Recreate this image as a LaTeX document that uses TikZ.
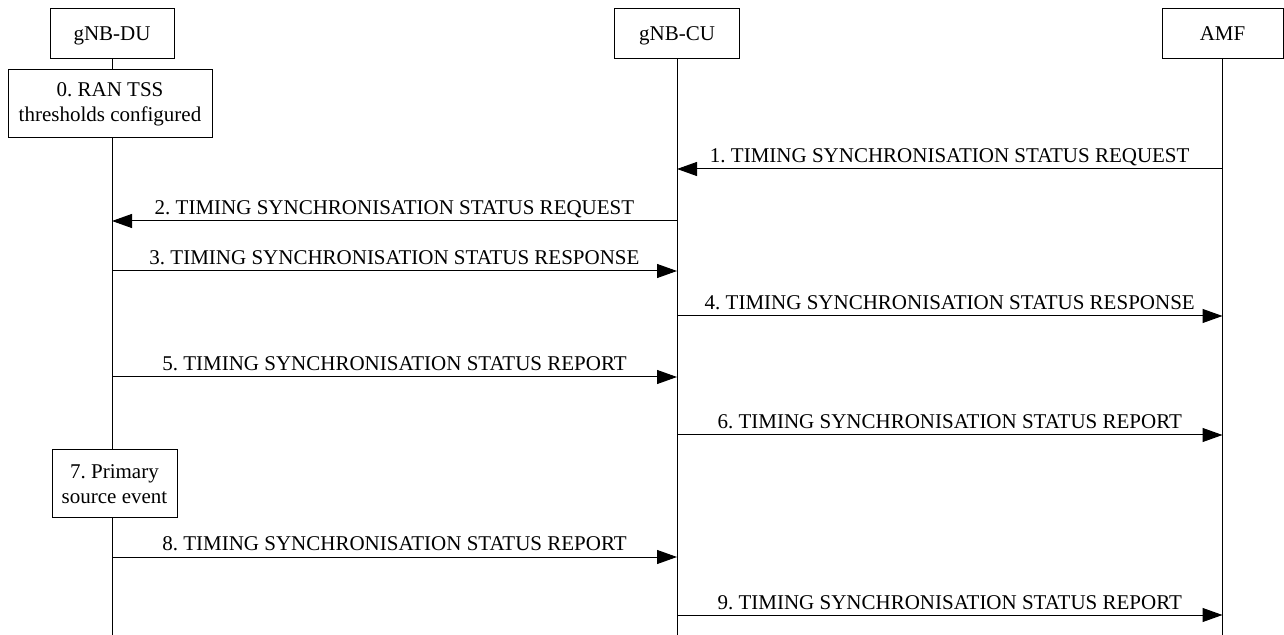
\documentclass[tikz,border=0pt]{standalone}
\usepackage{fontspec}
\setmainfont{Liberation Serif}
\frenchspacing
\usetikzlibrary{arrows.meta,positioning}
\tikzset{
  ent/.style={draw,line width=0.5pt,minimum width=62pt,minimum height=25pt,inner sep=2pt,text height=7pt,text depth=0pt,font=\fontsize{10.5}{12.5}\selectfont},
  actbox/.style={draw,line width=0.5pt,align=center,minimum height=34pt,inner sep=2pt,font=\fontsize{10.5}{12.5}\selectfont},
  life/.style={line width=0.5pt},
  msg/.style={-{Triangle[length=10pt,width=7pt]},line width=0.5pt},
  lbl/.style={anchor=base,yshift=3pt,inner sep=0pt,font=\fontsize{10.5}{12.5}\selectfont}
}

\begin{document}
\begin{tikzpicture}[x=0.5pt,y=-0.5pt]
\useasboundingbox (0,0) rectangle (1284,635);
% entities
\node[ent] (du) at (112,34) {gNB-DU};
\node[ent, minimum width=62.5pt] (cu) at (677,34) {gNB-CU};
\node[ent, minimum width=60.5pt] (amf) at (1222.5,34) {AMF};
% local actions
\node[actbox, minimum width=102pt] (s0) at (110,104) {0. RAN TSS\\thresholds configured};
\node[actbox, minimum width=62.5pt] (s7) at (114.5,484) {7. Primary\\source event};

% lifelines
\coordinate (bottom) at (0,635);
\draw[life] (du.south) -- (du.south |- s0.north);
\draw[life] (du.south |- s0.south) -- (du.south |- s7.north);
\draw[life] (du.south |- s7.south) -- (du.south |- bottom);
\draw[life] (cu.south) -- (cu.south |- bottom);
\draw[life] (amf.south) -- (amf.south |- bottom);

% messages
\foreach \y/\a/\b/\txt in {
  169/amf/cu/1. TIMING SYNCHRONISATION STATUS REQUEST,
  221/cu/du/2. TIMING SYNCHRONISATION STATUS REQUEST,
  271/du/cu/3. TIMING SYNCHRONISATION STATUS RESPONSE,
  316/cu/amf/4. TIMING SYNCHRONISATION STATUS RESPONSE,
  377/du/cu/5. TIMING SYNCHRONISATION STATUS REPORT,
  435/cu/amf/6. TIMING SYNCHRONISATION STATUS REPORT,
  557/du/cu/8. TIMING SYNCHRONISATION STATUS REPORT,
  615/cu/amf/9. TIMING SYNCHRONISATION STATUS REPORT}
  \draw[msg] (\a.south |- 0,\y) -- (\b.south |- 0,\y) node[lbl,midway] {\txt};
\end{tikzpicture}
\end{document}
